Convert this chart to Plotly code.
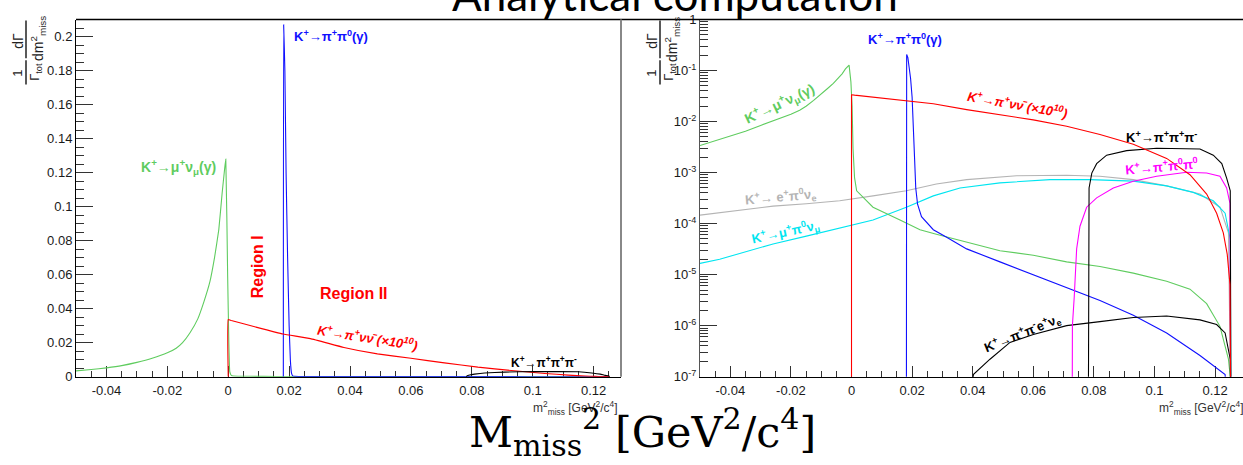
import plotly.graph_objects as go

W, H = 1243, 465

# ---------------- data ----------------
# K+ -> mu+ nu (gamma)
kmu2_x = [-0.050, -0.045, -0.040, -0.035, -0.030, -0.025, -0.020, -0.0171, -0.015, -0.0125,
          -0.010, -0.008, -0.006, -0.0045, -0.0031, -0.0020, -0.0012, -0.0008, -0.0002, 0.0002,
          0.0005, 0.0010, 0.0017, 0.0071, 0.0160, 0.0226, 0.0280, 0.0380, 0.0490, 0.0600,
          0.0710, 0.0820, 0.0930, 0.1040, 0.1117, 0.1172, 0.1216, 0.1244, 0.1250, 0.1252]
kmu2_y = [3.4e-3, 4.2e-3, 5.2e-3, 6.5e-3, 8.4e-3, 1.08e-2, 1.40e-2, 1.67e-2, 2.0e-2, 2.6e-2,
          3.4e-2, 4.4e-2, 5.6e-2, 7.0e-2, 8.65e-2, 0.108, 0.122, 0.128, 0.060, 0.020,
          3.0e-3, 8.0e-4, 4.4e-4, 2.1e-4, 1.18e-4, 7.6e-5, 6.2e-5, 4.3e-5, 2.95e-5, 2.4e-5,
          1.78e-5, 1.44e-5, 1.07e-5, 7.4e-6, 5.2e-6, 2.7e-6, 9.7e-7, 2.2e-7, 1.0e-7, 1e-9]

# K+ -> pi+ pi0 (gamma)
kpi2_x = [0.0181, 0.0182, 0.0186, 0.0190, 0.0195, 0.0200, 0.0204, 0.0208, 0.0212, 0.0218,
          0.0231, 0.0270, 0.0314, 0.0380, 0.0490, 0.0600, 0.0710, 0.0820, 0.0930, 0.1040,
          0.1150, 0.1233, 0.1250]
kpi2_y = [1e-9, 0.207, 0.180, 0.120, 0.070, 0.030, 0.010, 2.0e-3, 5.0e-4, 2.4e-4,
          1.37e-4, 7.6e-5, 5.4e-5, 3.2e-5, 1.78e-5, 1.0e-5, 5.5e-6, 3.1e-6, 1.6e-6, 7.2e-7,
          2.6e-7, 1.1e-7, 1e-9]

# K+ -> pi+ nu nubar (x 1e10)
pinn_x = [0.0, 0.0, 0.0010, 0.0090, 0.0180, 0.0270, 0.0380, 0.0490, 0.0600, 0.0710,
          0.0820, 0.0930, 0.1040, 0.1117, 0.1172, 0.1205, 0.1227, 0.1240, 0.1249, 0.1253]
pinn_y = [1e-9, 0.0336, 0.0330, 0.0292, 0.0251, 0.0224, 0.0172, 0.0134, 0.0108, 8.1e-3,
          5.6e-3, 3.6e-3, 1.9e-3, 9.1e-4, 3.8e-4, 1.6e-4, 6.6e-5, 2.5e-5, 6.4e-6, 1e-9]

# K+ -> pi+ pi+ pi-
k3pi_x = [0.0781, 0.0782, 0.0784, 0.0793, 0.0809, 0.0842, 0.0908, 0.1007, 0.1150, 0.1194,
          0.1222, 0.1238, 0.1250, 0.1253]
k3pi_y = [1e-9, 2e-6, 5.0e-4, 9.8e-4, 1.5e-3, 2.2e-3, 2.7e-3, 3.0e-3, 2.9e-3, 2.2e-3,
          1.5e-3, 7.8e-4, 4.4e-4, 1e-9]

# K+ -> pi+ pi0 pi0
k3pi00_x = [0.0728, 0.0729, 0.0735, 0.0743, 0.0754, 0.0776, 0.0809, 0.0864, 0.0930, 0.1007,
            0.1106, 0.1172, 0.1216, 0.1238, 0.1249, 0.1252]
k3pi00_y = [1e-9, 1.0e-6, 3.6e-6, 3.2e-5, 8.9e-5, 2.1e-4, 3.2e-4, 5.0e-4, 6.8e-4, 8.5e-4,
            1.02e-3, 9.8e-4, 8.5e-4, 5.0e-4, 2.5e-4, 1e-9]

# K+ -> e+ pi0 nu_e
ke3_x = [-0.050, -0.0369, -0.0259, -0.0149, -0.0039, 0.0071, 0.0181, 0.0280, 0.0380, 0.0545,
         0.0710, 0.0820, 0.0930, 0.1040, 0.1150, 0.1216, 0.1244, 0.1255]
ke3_y = [1.47e-4, 1.8e-4, 2.2e-4, 2.45e-4, 2.8e-4, 3.5e-4, 4.4e-4, 6.0e-4, 7.3e-4, 8.7e-4,
         8.9e-4, 8.5e-4, 7.3e-4, 5.5e-4, 3.8e-4, 2.1e-4, 6.6e-5, 1e-9]

# K+ -> mu+ pi0 nu_mu
kmu3_x = [-0.050, -0.0435, -0.0369, -0.0259, -0.0149, -0.0039, 0.0071, 0.0181, 0.0226, 0.0270,
          0.0358, 0.0490, 0.0655, 0.0787, 0.0930, 0.1040, 0.1128, 0.1194, 0.1233, 0.1250, 0.1253]
kmu3_y = [1.66e-5, 2.0e-5, 2.6e-5, 4.0e-5, 5.7e-5, 8.3e-5, 1.18e-4, 2.1e-4, 2.7e-4, 3.5e-4,
          5.0e-4, 6.3e-4, 7.3e-4, 7.3e-4, 6.8e-4, 5.5e-4, 4.1e-4, 2.8e-4, 1.6e-4, 4.9e-5, 1e-9]

# K+ -> pi+ pi- e+ nu_e
ke4_x = [0.0400, 0.0402, 0.0457, 0.0523, 0.0600, 0.0710, 0.0820, 0.0930, 0.1040, 0.1150,
         0.1205, 0.1233, 0.1250, 0.1253]
ke4_y = [1e-9, 1.1e-7, 2.2e-7, 4.7e-7, 6.7e-7, 1.0e-6, 1.2e-6, 1.45e-6, 1.55e-6, 1.3e-6,
         1.05e-6, 7.2e-7, 2.2e-7, 1e-9]

# tick labels
x_tickvals = [-0.04, -0.02, 0.0, 0.02, 0.04, 0.06, 0.08, 0.10, 0.12]
x_ticktext = ["-0.04", "-0.02", "0", "0.02", "0.04", "0.06", "0.08", "0.1", "0.12"]
ylin_tickvals = [0.0, 0.02, 0.04, 0.06, 0.08, 0.10, 0.12, 0.14, 0.16, 0.18, 0.20]
ylin_ticktext = ["0", "0.02", "0.04", "0.06", "0.08", "0.1", "0.12", "0.14", "0.16", "0.18", "0.2"]
ylog_tickvals = [1e-7, 1e-6, 1e-5, 1e-4, 1e-3, 1e-2, 1e-1, 1.0]
ylog_ticktext = ["10<sup>-7</sup>", "10<sup>-6</sup>", "10<sup>-5</sup>", "10<sup>-4</sup>",
                 "10<sup>-3</sup>", "10<sup>-2</sup>", "10<sup>-1</sup>", "1"]
ylog_minor = [k * 10.0 ** e for e in range(-7, 0) for k in range(2, 10)]

# ---------------- style ----------------
GREEN = "#5fcc5f"
BLUE = "#1010ff"
RED = "#ff0000"
BLACK = "#000000"
GRAY = "#b4b4b4"
CYAN = "#00e5f0"
MAGENTA = "#ff00ff"
SANS = "Liberation Sans, Arial, sans-serif"


def X(p):
    return p / W


def Y(p):
    return 1 - p / H


fig = go.Figure()

left_series = [(kmu2_x, kmu2_y, GREEN), (kpi2_x, kpi2_y, BLUE),
               (pinn_x, pinn_y, RED), (k3pi_x, k3pi_y, BLACK)]
for xs, ys, c in left_series:
    fig.add_trace(go.Scatter(x=xs, y=ys, mode="lines",
                             line=dict(color=c, width=1.1, shape="spline", smoothing=0.3),
                             xaxis="x", yaxis="y", hoverinfo="skip", showlegend=False))

right_series = [(ke3_x, ke3_y, GRAY), (kmu3_x, kmu3_y, CYAN), (kmu2_x, kmu2_y, GREEN),
                (kpi2_x, kpi2_y, BLUE), (ke4_x, ke4_y, BLACK), (k3pi00_x, k3pi00_y, MAGENTA),
                (k3pi_x, k3pi_y, BLACK), (pinn_x, pinn_y, RED)]
for xs, ys, c in right_series:
    fig.add_trace(go.Scatter(x=xs, y=ys, mode="lines", line=dict(color=c, width=1.1),
                             xaxis="x2", yaxis="y2", hoverinfo="skip", showlegend=False))

tickfont = dict(family=SANS, size=13, color="#1a1a1a")
xcommon = dict(showline=True, linecolor="black", linewidth=1, ticks="inside", ticklen=11,
               tickcolor="#333", tickwidth=1, tickmode="array", tickvals=x_tickvals,
               ticktext=x_ticktext, showgrid=False, zeroline=False, tickfont=tickfont,
               layer="below traces", ticklabelstandoff=2,
               minor=dict(tickmode="linear", tick0=0, dtick=0.005, ticks="inside",
                          ticklen=6, tickcolor="#333", showgrid=False))

fig.update_layout(
    width=W, height=H, margin=dict(l=0, r=0, t=0, b=0, pad=0),
    paper_bgcolor="white", plot_bgcolor="white", showlegend=False,
    xaxis=dict(domain=[X(76), X(621)], range=[-0.05, 0.129], anchor="y", **xcommon),
    yaxis=dict(domain=[Y(382), Y(13)], range=[0, 0.21], anchor="x", showline=True,
               linecolor="black", linewidth=1, ticks="inside", ticklen=17, tickcolor="#333",
               tickmode="array", tickvals=ylin_tickvals, ticktext=ylin_ticktext,
               showgrid=False, zeroline=False, tickfont=tickfont, layer="below traces",
               minor=dict(tickmode="linear", tick0=0, dtick=0.005, ticks="inside",
                          ticklen=8, tickcolor="#333", showgrid=False)),
    xaxis2=dict(domain=[X(700), 1.0], range=[-0.05, 0.1292], anchor="y2", **xcommon),
    yaxis2=dict(domain=[Y(382), Y(13)], type="log", range=[-7, 0], anchor="x2",
                showline=True, linecolor="#555", linewidth=1, ticks="inside", ticklen=17,
                tickcolor="#333", tickmode="array", tickvals=ylog_tickvals,
                ticktext=ylog_ticktext, showgrid=False, zeroline=False, tickfont=tickfont,
                layer="below traces",
                minor=dict(tickmode="array", tickvals=ylog_minor, ticks="inside",
                           ticklen=8, tickcolor="#333", showgrid=False)),
)

# frame lines
fig.add_shape(type="line", xref="paper", yref="paper", x0=X(76), x1=1.0, y0=Y(13), y1=Y(13),
              line=dict(color="black", width=1.5))
fig.add_shape(type="line", xref="paper", yref="paper", x0=X(621), x1=X(621), y0=Y(13), y1=Y(382),
              line=dict(color="#888", width=2))


def ann(text, x, y, color, size=13, angle=0, family=SANS, xanchor="center", yanchor="middle"):
    fig.add_annotation(text=text, x=X(x), y=Y(y), xref="paper", yref="paper", showarrow=False,
                       font=dict(family=family, size=size, color=color), textangle=angle,
                       xanchor=xanchor, yanchor=yanchor)


kpi2_lbl = "<b>K<sup>+</sup>→π<sup>+</sup>π<sup>0</sup>(γ)</b>"
kmu2_lbl = "<b>K<sup>+</sup>→μ<sup>+</sup>ν<sub>μ</sub>(γ)</b>"
pinn_lbl = "<b><i>K<sup>+</sup>→π<sup>+</sup>νν\u0304 (×10<sup>10</sup>)</i></b>"
k3pi_lbl = "<b>K<sup>+</sup>→π<sup>+</sup>π<sup>+</sup>π<sup>-</sup></b>"

# left panel labels
ann(kpi2_lbl, 331, 30, BLUE)
ann(kmu2_lbl, 178, 165, GREEN, size=14)
ann("<b>Region I</b>", 257, 269, RED, size=16, angle=-90)
ann("<b>Region II</b>", 354, 296, RED, size=16)
ann(pinn_lbl, 367, 341, RED, angle=9)
ann(k3pi_lbl, 544, 367, BLACK, size=12)

# right panel labels
ann(kpi2_lbl, 905, 33, BLUE)
ann(kmu2_lbl, 779, 100, GREEN, size=14, angle=-25)
ann(pinn_lbl, 1017, 100, RED, angle=10)
ann(k3pi_lbl, 1161, 134, BLACK)
ann("<b>K<sup>+</sup>→π<sup>+</sup>π<sup>0</sup>π<sup>0</sup></b>", 1161, 164, MAGENTA, angle=-5)
ann("<b>K<sup>+</sup>→ e<sup>+</sup>π<sup>0</sup>ν<sub>e</sub></b>", 780, 196, GRAY, angle=-5)
ann("<b>K<sup>+</sup>→μ<sup>+</sup>π<sup>0</sup>ν<sub>μ</sub></b>", 785, 232, CYAN, angle=-12)
ann("<b>K<sup>+</sup>→π<sup>+</sup>π<sup>-</sup>e<sup>+</sup>ν<sub>e</sub></b>", 1023, 337, BLACK, angle=-22)

# axis titles (x)
xt = "m<sup>2</sup><sub>miss</sub> [GeV<sup>2</sup>/c<sup>4</sup>]"
ann(xt, 620, 414, "#333", size=12, xanchor="right")
ann(xt, 1246, 414, "#333", size=12, xanchor="right")

# axis titles (y): fraction 1/Γtot · dΓ/dm²miss
for x0 in (0, 634):
    ann("1", x0 + 18, 69, "#222", size=13, angle=-90)
    ann("Γ<sub>tot</sub>", x0 + 36, 67, "#222", size=13, angle=-90)
    ann("dΓ", x0 + 18, 35, "#222", size=14, angle=-90)
    ann("dm<sup>2</sup><sub>miss</sub>", x0 + 38, 33, "#222", size=14, angle=-90)
    fig.add_shape(type="line", xref="paper", yref="paper", x0=X(x0 + 26), x1=X(x0 + 26),
                  y0=Y(55), y1=Y(80), line=dict(color="#222", width=1.5))
    fig.add_shape(type="line", xref="paper", yref="paper", x0=X(x0 + 26), x1=X(x0 + 26),
                  y0=Y(14), y1=Y(53), line=dict(color="#222", width=1.5))

# overall title and big x label
ann("Analytical computation", 675, -13, "black", size=44, family="Lato, Open Sans, sans-serif")
ann("M<sub>miss</sub><sup>2</sup> [GeV<sup>2</sup>/c<sup>4</sup>]", 642, 439, "black", size=43,
    family="DejaVu Serif, serif")

fig.write_html("out.html")
